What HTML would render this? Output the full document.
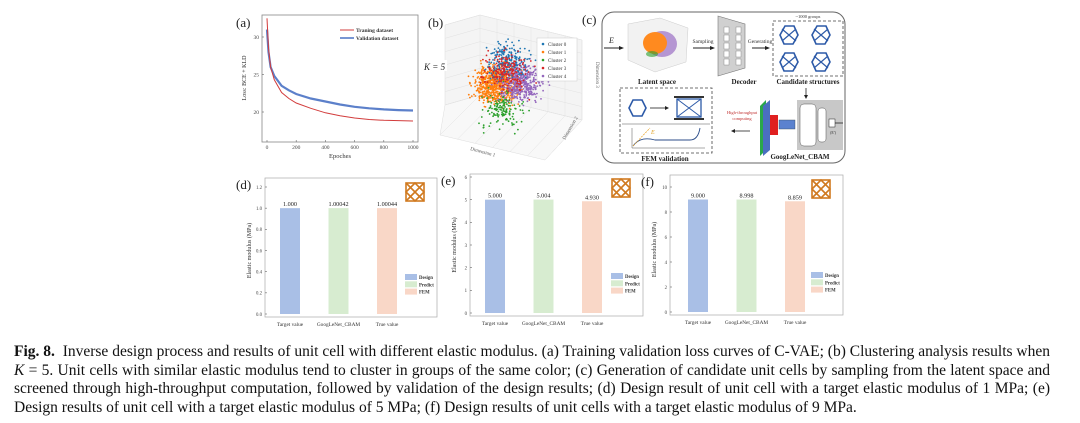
<!DOCTYPE html>
<html><head><meta charset="utf-8">
<style>
html,body{margin:0;padding:0;background:#fff;}
#root{position:relative;width:1080px;height:423px;overflow:hidden;background:#fff;font-family:"Liberation Serif",serif;}
svg{position:absolute;left:0;top:0;}
.cap{position:absolute;left:14px;width:1036px;font-size:15.5px;color:#111;white-space:nowrap;text-align:justify;text-align-last:justify;line-height:18px;}
.cap.last{text-align-last:left;}
</style></head>
<body>
<div id="root">
<svg id="fig" width="1080" height="423" viewBox="0 0 1080 423" font-family="Liberation Serif, serif"></svg>
<div class="cap" style="top:343px"><b>Fig. 8.</b>&nbsp; Inverse design process and results of unit cell with different elastic modulus. (a) Training validation loss curves of C-VAE; (b) Clustering analysis results when</div>
<div class="cap" style="top:361.5px"><i>K</i> = 5. Unit cells with similar elastic modulus tend to cluster in groups of the same color; (c) Generation of candidate unit cells by sampling from the latent space and</div>
<div class="cap" style="top:380px">screened through high-throughput computation, followed by validation of the design results; (d) Design result of unit cell with a target elastic modulus of 1 MPa; (e)</div>
<div class="cap last" style="top:398.5px">Design results of unit cell with a target elastic modulus of 5 MPa; (f) Design results of unit cells with a target elastic modulus of 9 MPa.</div>
</div>
<script>
// ---- data ----
const lossEpochs = [0, 10, 25, 50, 100, 150, 200, 300, 400, 500, 600, 700, 800, 900, 1000];
const trainLoss = [32.5, 28.5, 26.0, 24.3, 22.6, 21.8, 21.2, 20.5, 19.9, 19.5, 19.2, 19.0, 18.9, 18.85, 18.8];
const valLoss   = [31.0, 28.0, 26.0, 24.8, 23.5, 22.9, 22.4, 21.8, 21.4, 21.0, 20.7, 20.5, 20.35, 20.25, 20.2];
const lossXTicks = [0, 200, 400, 600, 800, 1000];
const lossYTicks = [20, 25, 30];
const clusterNames = ["Cluster 0", "Cluster 1", "Cluster 2", "Cluster 3", "Cluster 4"];
const clusterColors = ["#1f77b4", "#ff7f0e", "#2ca02c", "#d62728", "#9467bd"];
const clusterCx = [0.2, -0.6, -0.2, 0.0, 1.0];
const clusterCy = [1.6, 0.0, -1.6, 0.9, 0.2];
const clusterCount = [220, 650, 150, 200, 420];
const barCats = ["Target value", "GoogLeNet_CBAM", "True value"];
const barSeries = ["Design", "Predict", "FEM"];
const barColors = ["#a9bfe6", "#d7ecd0", "#f9d7c7"];
const dValues = [1.000, 1.00042, 1.00044];
const dLabels = ["1.000", "1.00042", "1.00044"];
const dTicks = [0.0, 0.2, 0.4, 0.6, 0.8, 1.0, 1.2];
const eValues = [5.000, 5.004, 4.930];
const eLabels = ["5.000", "5.004", "4.930"];
const eTicks = [0, 1, 2, 3, 4, 5, 6];
const fValues = [9.000, 8.998, 8.859];
const fLabels = ["9.000", "8.998", "8.859"];
const fTicks = [0, 2, 4, 6, 8, 10];

const NS = "http://www.w3.org/2000/svg";
const svg = document.getElementById('fig');
function mk(tag, attrs, parent, txt) {
  const e = document.createElementNS(NS, tag);
  for (const k in attrs) e.setAttribute(k, attrs[k]);
  if (txt !== undefined) e.textContent = txt;
  (parent || svg).appendChild(e);
  return e;
}
function grp(name) {
  const g = mk('g', {});
  
  
  return g;
}

// ---- panel (a) loss curves ----
(function(){
  const g = grp('panel-a-loss-chart');
  const X0 = 267, X1 = 413, Y20 = 112, Y30 = 37;
  const sx = v => X0 + (v - 0) / 1000 * (X1 - X0);
  const sy = v => Y20 - (v - 20) / 10 * (Y20 - Y30);
  mk('rect', {x: 262, y: 15, width: 156, height: 127, fill: 'none', stroke: '#888', 'stroke-width': 0.8}, g);
  mk('text', {x: 236, y: 27, 'font-size': 13, fill: '#222'}, g, '(a)');
  lossXTicks.forEach(t => {
    mk('line', {x1: sx(t), x2: sx(t), y1: 142, y2: 140, stroke: '#666', 'stroke-width': 0.6}, g);
    const tx = mk('text', {x: sx(t), y: 149, 'font-size': 5.5, 'text-anchor': 'middle', fill: '#444'}, g, String(t));
    
    
  });
  lossYTicks.forEach(t => {
    mk('line', {x1: 262, x2: 264, y1: sy(t), y2: sy(t), stroke: '#666', 'stroke-width': 0.6}, g);
    const tx = mk('text', {x: 259, y: sy(t) + 2, 'font-size': 5.5, 'text-anchor': 'end', fill: '#444'}, g, String(t));
    
    
  });
  mk('text', {x: 340, y: 158, 'font-size': 6.5, 'text-anchor': 'middle', fill: '#333'}, g, 'Epoches');
  mk('text', {x: 0, y: 0, 'font-size': 6, 'text-anchor': 'middle', fill: '#333', transform: 'translate(246,78) rotate(-90)'}, g, 'Loss: BCE + KLD');
  const line = (xs, ys) => xs.map((x, i) => (i ? 'L' : 'M') + sx(x).toFixed(1) + ',' + sy(ys[i]).toFixed(1)).join(' ');
  const vl = mk('path', {d: line(lossEpochs, valLoss), fill: 'none', stroke: '#4a72c4', 'stroke-width': 2.2, opacity: 0.9}, g);
  
  
  const tl = mk('path', {d: line(lossEpochs, trainLoss), fill: 'none', stroke: '#d23c3c', 'stroke-width': 1}, g);
  
  
  mk('line', {x1: 340, x2: 354, y1: 30, y2: 30, stroke: '#d23c3c', 'stroke-width': 1}, g);
  mk('text', {x: 356, y: 32, 'font-size': 5.5, 'font-weight': 'bold', fill: '#333'}, g, 'Traning dataset');
  mk('line', {x1: 340, x2: 354, y1: 38, y2: 38, stroke: '#4a72c4', 'stroke-width': 1.5}, g);
  mk('text', {x: 356, y: 40, 'font-size': 5.5, 'font-weight': 'bold', fill: '#333'}, g, 'Validation dataset');
})();

// ---- panel (b) 3D cluster scatter ----
(function(){
  const g = grp('panel-b-cluster-scatter');
  mk('text', {x: 428, y: 27, 'font-size': 13, fill: '#222'}, g, '(b)');
  mk('polygon', {points: '445,25 480,15 582,40 582,120 480,95 445,105', fill: '#f4f4f4', stroke: '#ddd', 'stroke-width': 0.5}, g);
  mk('polygon', {points: '445,105 480,95 582,120 545,160 440,135', fill: '#f8f8f8', stroke: '#ddd', 'stroke-width': 0.5}, g);
  for (let i = 0; i <= 6; i++) {
    const t = i / 6;
    mk('line', {x1: 480 + t * 102, y1: 15 + t * 25, x2: 480 + t * 102, y2: 95 + t * 25, stroke: '#e2e2e2', 'stroke-width': 0.5}, g);
    mk('line', {x1: 445, y1: 25 + t * 80, x2: 480, y2: 15 + t * 80, stroke: '#e2e2e2', 'stroke-width': 0.5}, g);
    mk('line', {x1: 480, y1: 15 + t * 80, x2: 582, y2: 40 + t * 80, stroke: '#e2e2e2', 'stroke-width': 0.5}, g);
    mk('line', {x1: 440 + t * 105, y1: 135 + t * 25, x2: 480 + t * 102, y2: 95 + t * 25, stroke: '#e2e2e2', 'stroke-width': 0.5}, g);
  }
  let seed = 12345;
  const rnd = () => { seed = (seed * 1103515245 + 12345) % 2147483648; return seed / 2147483648; };
  const gauss = () => { let s = 0; for (let k = 0; k < 4; k++) s += rnd(); return (s - 2) * 1.2; };
  const sx = v => 505 + v * 15, sy = v => 85 - v * 15;
  [1, 2, 4, 0, 3].forEach(c => {
    const cg = mk('g', {fill: clusterColors[c]}, g);
    
    
    for (let i = 0; i < clusterCount[c]; i++) {
      mk('circle', {cx: sx(clusterCx[c] + gauss()).toFixed(1), cy: sy(clusterCy[c] + gauss() * 0.9).toFixed(1), r: 0.9}, cg);
    }
  });
  mk('rect', {x: 423, y: 60, width: 24, height: 11, fill: '#fff'}, g);
  mk('text', {x: 424, y: 70, 'font-size': 9, 'font-style': 'italic', fill: '#222'}, g, 'K = 5');
  const lg = mk('g', {}, g);
  
  
  mk('rect', {x: 537, y: 38, width: 40, height: 43, fill: '#fff', stroke: '#ccc', 'stroke-width': 0.5}, lg);
  clusterNames.forEach((n, i) => {
    mk('circle', {cx: 543, cy: 44 + i * 8, r: 1.3, fill: clusterColors[i]}, lg);
    mk('text', {x: 548, y: 46 + i * 8, 'font-size': 5, fill: '#333'}, lg, n);
  });
  mk('text', {x: 0, y: 0, 'font-size': 5, fill: '#555', transform: 'translate(470,150) rotate(15)'}, g, 'Dimension 1');
  mk('text', {x: 0, y: 0, 'font-size': 5, fill: '#555', transform: 'translate(565,140) rotate(-60)'}, g, 'Dimension 2');
  mk('text', {x: 0, y: 0, 'font-size': 5, fill: '#555', transform: 'translate(596,62) rotate(90)'}, g, 'Dimension 3');
})();

// ---- panel (c) workflow diagram ----
(function(){
  const g = grp('panel-c-workflow');
  mk('text', {x: 582, y: 24, 'font-size': 13, fill: '#222'}, g, '(c)');
  mk('rect', {x: 602, y: 12, width: 243, height: 151, rx: 12, fill: 'none', stroke: '#666', 'stroke-width': 1}, g);
  mk('text', {x: 609, y: 43, 'font-size': 8, 'font-style': 'italic', fill: '#222'}, g, 'E');
  mk('line', {x1: 604, y1: 48, x2: 621, y2: 48, stroke: '#222', 'stroke-width': 1}, g);
  mk('polygon', {points: '624,48 619,46 619,50', fill: '#222'}, g);
  mk('polygon', {points: '628,24 660,18 688,28 686,62 655,72 628,60', fill: '#f2f2f2', stroke: '#ccc', 'stroke-width': 0.5}, g);
  mk('ellipse', {cx: 662, cy: 44, rx: 15, ry: 13, fill: '#9b6fc4', opacity: 0.7}, g);
  mk('ellipse', {cx: 655, cy: 43, rx: 12, ry: 11, fill: '#ff8a1f'}, g);
  mk('ellipse', {cx: 652, cy: 54, rx: 6, ry: 3, fill: '#2ca02c', opacity: 0.6}, g);
  mk('text', {x: 657, y: 84, 'font-size': 7, 'font-weight': 'bold', 'text-anchor': 'middle', fill: '#222'}, g, 'Latent space');
  mk('text', {x: 703, y: 43, 'font-size': 5.5, 'text-anchor': 'middle', fill: '#333'}, g, 'Sampling');
  mk('line', {x1: 693, y1: 48, x2: 712, y2: 48, stroke: '#222', 'stroke-width': 1}, g);
  mk('polygon', {points: '715,48 710,46 710,50', fill: '#222'}, g);
  mk('polygon', {points: '718,16 745,24 745,68 718,76', fill: '#d0d0d0', stroke: '#777', 'stroke-width': 0.6}, g);
  for (let i = 0; i < 5; i++) {
    mk('rect', {x: 724, y: 27 + i * 8, width: 5, height: 6, fill: '#fff', stroke: '#777', 'stroke-width': 0.4}, g);
    mk('rect', {x: 736, y: 27 + i * 8, width: 5, height: 6, fill: '#fff', stroke: '#777', 'stroke-width': 0.4}, g);
  }
  mk('text', {x: 744, y: 84, 'font-size': 7, 'font-weight': 'bold', 'text-anchor': 'middle', fill: '#222'}, g, 'Decoder');
  mk('text', {x: 760, y: 43, 'font-size': 5.5, 'text-anchor': 'middle', fill: '#333'}, g, 'Generating');
  mk('line', {x1: 752, y1: 48, x2: 767, y2: 48, stroke: '#222', 'stroke-width': 1}, g);
  mk('polygon', {points: '770,48 765,46 765,50', fill: '#222'}, g);
  mk('text', {x: 808, y: 18, 'font-size': 4.5, 'text-anchor': 'middle', fill: '#333'}, g, '~1000 groups');
  mk('rect', {x: 773, y: 21, width: 70, height: 55, fill: 'none', stroke: '#444', 'stroke-width': 0.8, 'stroke-dasharray': '3,2'}, g);
  [[789, 35], [821, 35], [789, 62], [821, 62]].forEach(p => {
    mk('polygon', {points: `${p[0]-9},${p[1]} ${p[0]-4},${p[1]-9} ${p[0]+5},${p[1]-9} ${p[0]+9},${p[1]} ${p[0]+4},${p[1]+9} ${p[0]-5},${p[1]+9}`, fill: 'none', stroke: '#2d5aa8', 'stroke-width': 1.6}, g);
    mk('path', {d: `M${p[0]-7},${p[1]-6} L${p[0]+7},${p[1]+6} M${p[0]+7},${p[1]-6} L${p[0]-7},${p[1]+6}`, stroke: '#2d5aa8', 'stroke-width': 1.2}, g);
  });
  mk('text', {x: 808, y: 84, 'font-size': 7, 'font-weight': 'bold', 'text-anchor': 'middle', fill: '#222'}, g, 'Candidate structures');
  mk('line', {x1: 806, y1: 88, x2: 806, y2: 96, stroke: '#222', 'stroke-width': 0.8}, g);
  mk('polygon', {points: '806,99 804,95 808,95', fill: '#222'}, g);
  mk('rect', {x: 797, y: 100, width: 46, height: 50, fill: '#c8c8c8'}, g);
  mk('polygon', {points: '760,106 766,100 766,150 760,156', fill: '#2aa84a'}, g);
  mk('polygon', {points: '763,106 770,100 770,150 763,156', fill: '#4a6fc0'}, g);
  mk('rect', {x: 770, y: 115, width: 8, height: 20, fill: '#e02020'}, g);
  mk('rect', {x: 779, y: 120, width: 16, height: 9, fill: '#5b82cf', stroke: '#345', 'stroke-width': 0.4}, g);
  mk('rect', {x: 800, y: 104, width: 16, height: 42, rx: 4, fill: '#fff', stroke: '#555', 'stroke-width': 0.5}, g);
  mk('rect', {x: 818, y: 108, width: 8, height: 34, rx: 3, fill: '#fff', stroke: '#555', 'stroke-width': 0.5}, g);
  mk('rect', {x: 829, y: 119, width: 6, height: 8, fill: '#fff', stroke: '#222', 'stroke-width': 0.5}, g);
  mk('line', {x1: 835, y1: 123, x2: 843, y2: 123, stroke: '#222', 'stroke-width': 0.8}, g);
  mk('text', {x: 833, y: 134, 'font-size': 4, 'text-anchor': 'middle', fill: '#333'}, g, '(E\')');
  mk('text', {x: 800, y: 159, 'font-size': 7, 'font-weight': 'bold', 'text-anchor': 'middle', fill: '#222'}, g, 'GoogLeNet_CBAM');
  mk('text', {x: 742, y: 114, 'font-size': 4.5, 'text-anchor': 'middle', fill: '#c03030'}, g, 'High-throughput');
  mk('text', {x: 742, y: 120, 'font-size': 4.5, 'text-anchor': 'middle', fill: '#c03030'}, g, 'computing');
  mk('line', {x1: 734, y1: 131, x2: 750, y2: 131, stroke: '#222', 'stroke-width': 0.8}, g);
  mk('polygon', {points: '731,131 735,129 735,133', fill: '#222'}, g);
  mk('rect', {x: 620, y: 88, width: 92, height: 65, fill: 'none', stroke: '#444', 'stroke-width': 0.8, 'stroke-dasharray': '3,2'}, g);
  mk('polygon', {points: '629,108 633,100 642,100 646,108 642,116 633,116', fill: 'none', stroke: '#2d5aa8', 'stroke-width': 1.6}, g);
  mk('line', {x1: 650, y1: 108, x2: 666, y2: 108, stroke: '#222', 'stroke-width': 0.8}, g);
  mk('polygon', {points: '669,108 665,106 665,110', fill: '#222'}, g);
  mk('rect', {x: 674, y: 96, width: 30, height: 2, fill: '#333'}, g);
  mk('rect', {x: 674, y: 118, width: 30, height: 2, fill: '#333'}, g);
  mk('rect', {x: 677, y: 99, width: 24, height: 18, fill: 'none', stroke: '#2d5aa8', 'stroke-width': 1.3}, g);
  mk('path', {d: 'M677,99 L701,117 M701,99 L677,117', stroke: '#2d5aa8', 'stroke-width': 1}, g);
  mk('line', {x1: 622, y1: 124, x2: 710, y2: 124, stroke: '#555', 'stroke-width': 0.5}, g);
  mk('path', {d: 'M632,148 L632,128 M632,148 L705,148', stroke: '#555', 'stroke-width': 0.5, fill: 'none'}, g);
  mk('path', {d: 'M633,146 Q640,136 655,140 L690,140 Q698,140 700,128', stroke: '#2d4e8a', 'stroke-width': 0.9, fill: 'none'}, g);
  mk('line', {x1: 633, y1: 146, x2: 650, y2: 128, stroke: '#e8a020', 'stroke-width': 0.7, 'stroke-dasharray': '2,1'}, g);
  mk('text', {x: 651, y: 134, 'font-size': 6, 'font-style': 'italic', fill: '#e0a020'}, g, 'E');
  mk('text', {x: 665, y: 161, 'font-size': 7, 'font-weight': 'bold', 'text-anchor': 'middle', fill: '#222'}, g, 'FEM validation');
})();

// ---- bar panels ----
function barPanel(opt) {
  const g = grp(opt.name);
  const yMin = opt.ticks[0], yMax = opt.ticks[opt.ticks.length - 1];
  const sy = v => opt.yBot - (v - yMin) / (yMax - yMin) * (opt.yBot - opt.yTop);
  const sx = i => opt.x0 + i * opt.step;
  mk('rect', {x: opt.left, y: opt.boxTop, width: opt.right - opt.left, height: opt.yBot - opt.boxTop + 3, fill: 'none', stroke: '#aaa', 'stroke-width': 0.7}, g);
  mk('text', {x: opt.left - 29, y: opt.boxTop + 11, 'font-size': 13, fill: '#222'}, g, opt.letter);
  opt.ticks.forEach(t => {
    mk('line', {x1: opt.left, x2: opt.left + 2, y1: sy(t), y2: sy(t), stroke: '#666', 'stroke-width': 0.6}, g);
    const tx = mk('text', {x: opt.left - 3, y: sy(t) + 1.8, 'font-size': 4.8, 'text-anchor': 'end', fill: '#444'}, g, opt.tickFmt(t));
    
    
  });
  mk('text', {x: 0, y: 0, 'font-size': 6, 'text-anchor': 'middle', fill: '#333', transform: `translate(${opt.left - 14},${(opt.yTop + opt.yBot) / 2}) rotate(-90)`}, g, 'Elastic modulus (MPa)');
  opt.values.forEach((v, i) => {
    const b = mk('rect', {x: sx(i) - 10, y: sy(v), width: 20, height: sy(yMin) - sy(v), fill: barColors[i]}, g);
    
    
    const vl = mk('text', {x: sx(i), y: sy(v) - 2, 'font-size': 6.2, 'text-anchor': 'middle', fill: '#222'}, g, opt.labels[i]);
    
    
    const cl = mk('text', {x: sx(i), y: opt.yBot + 12, 'font-size': 5.3, 'text-anchor': 'middle', fill: '#333'}, g, barCats[i]);
    
    
  });
  const lg = mk('g', {}, g);
  
  
  barSeries.forEach((s, i) => {
    mk('rect', {x: opt.right - 32, y: opt.legY + i * 7.3, width: 12, height: 6, fill: barColors[i]}, lg);
    mk('text', {x: opt.right - 18, y: opt.legY + 5 + i * 7.3, 'font-size': 4.8, 'font-weight': 'bold', fill: '#333'}, lg, s);
  });
  const ic = mk('g', {fill: 'none', stroke: '#d07a20', 'stroke-width': 1.6}, g);
  
  
  const cx = opt.right - 22, cy = opt.boxTop + 14;
  mk('rect', {x: cx - 9, y: cy - 9, width: 18, height: 18}, ic);
  mk('path', {d: `M${cx-9},${cy} L${cx},${cy-9} L${cx+9},${cy} L${cx},${cy+9} Z M${cx-9},${cy-9} L${cx+9},${cy+9} M${cx+9},${cy-9} L${cx-9},${cy+9}`}, ic);
}
barPanel({name: 'panel-d-bar-chart', letter: '(d)', left: 265, right: 437, boxTop: 178, yTop: 187, yBot: 314, x0: 290, step: 48.5, ticks: dTicks, values: dValues, labels: dLabels, tickFmt: t => t.toFixed(1), legY: 274});
barPanel({name: 'panel-e-bar-chart', letter: '(e)', left: 470, right: 643, boxTop: 174, yTop: 177, yBot: 313, x0: 495, step: 48.5, ticks: eTicks, values: eValues, labels: eLabels, tickFmt: t => String(t), legY: 273});
barPanel({name: 'panel-f-bar-chart', letter: '(f)', left: 670, right: 843, boxTop: 175, yTop: 187, yBot: 312, x0: 698, step: 48.5, ticks: fTicks, values: fValues, labels: fLabels, tickFmt: t => String(t), legY: 272});
</script>
</body></html>
